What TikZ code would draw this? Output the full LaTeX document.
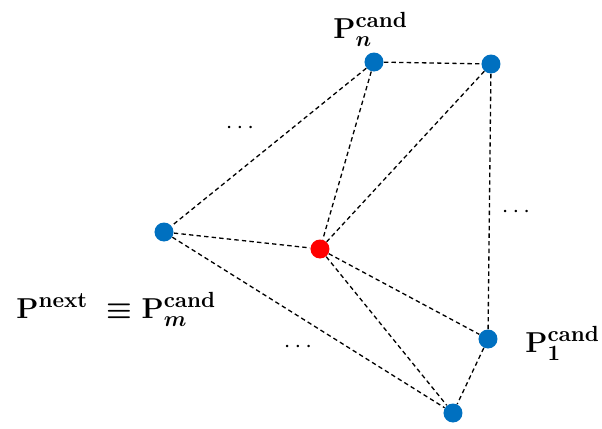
\documentclass[tikz,border=0pt]{standalone}
\usepackage{amsmath,amssymb}
\begin{document}
\begin{tikzpicture}[x=0.5pt,y=-0.5pt,
  pt/.style={circle,fill=ptblue,inner sep=0pt,minimum size=9.5pt},
  redpt/.style={circle,fill=red,inner sep=0pt,minimum size=9.5pt},
  edge/.style={dashed,dash pattern=on 2.2pt off 1.6pt,line width=0.65pt},
  lbl/.style={font=\fontsize{15.5}{18}\selectfont\boldmath,inner sep=0pt},
  dots/.style={font=\fontsize{13}{15}\selectfont,inner sep=0pt}]
\definecolor{ptblue}{RGB}{0,112,192}
\useasboundingbox (0,0) rectangle (602,429);
\node[pt] (A) at (374,62) {};
\node[pt] (B) at (491,64) {};
\node[pt] (C) at (164,232) {};
\node[redpt] (R) at (320,249) {};
\node[pt] (D) at (488,339) {};
\node[pt] (E) at (453,413) {};
\draw[edge] (A) -- (B);
\draw[edge] (A) -- (C);
\draw[edge] (A) -- (R);
\draw[edge] (B) -- (R);
\draw[edge] (B) -- (D);
\draw[edge] (C) -- (R);
\draw[edge] (C) -- (E);
\draw[edge] (R) -- (D);
\draw[edge] (R) -- (E);
\draw[edge] (D) -- (E);
\node[lbl,anchor=base west] (la) at (333,38) {$\mathbf{P}^{\mathbf{cand}}_{\boldsymbol{n}}$};
\node[lbl,anchor=base west] (lc) at (16,318) {$\mathbf{P}^{\mathbf{next}}\ \equiv \mathbf{P}^{\mathbf{cand}}_{\boldsymbol{m}}$};
\node[lbl,anchor=base west] (ld) at (525,352) {$\mathbf{P}^{\mathbf{cand}}_{\mathbf{1}}$};
\node[dots] (d1) at (242,128) {$\cdots$};
\node[dots] (d2) at (518,212) {$\cdots$};
\node[dots] (d3) at (300,347) {$\cdots$};
\end{tikzpicture}
\end{document}
